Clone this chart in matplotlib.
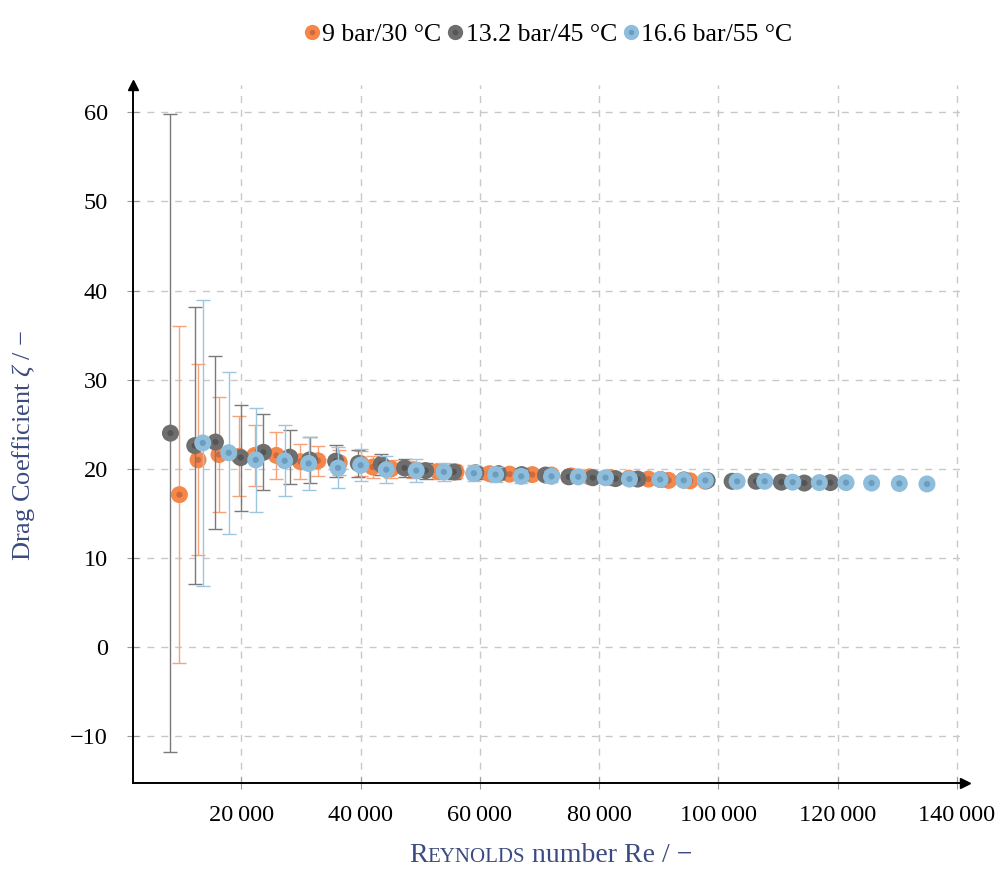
import matplotlib
matplotlib.use("Agg")
import matplotlib.pyplot as plt
from matplotlib.lines import Line2D
from matplotlib.ticker import FuncFormatter

plt.rcParams["font.family"] = ["Liberation Serif", "DejaVu Serif"]
plt.rcParams["mathtext.fontset"] = "custom"
plt.rcParams["mathtext.rm"] = "Liberation Serif"
plt.rcParams["mathtext.it"] = "Liberation Serif:italic"

# 9 bar / 30 °C
re_9 = [9600, 12720, 16240, 19600, 22230, 25860, 29880, 32830, 36400, 40000,
        42000, 45130, 48800, 52950, 56000, 59000, 61600, 64960, 68770, 72000,
        75300, 78370, 82000, 85000, 88260, 91660, 95240, 97800]
zeta_9 = [17.1, 21.0, 21.6, 21.4, 21.5, 21.5, 20.8, 20.9, 20.7, 20.6,
          20.2, 20.0, 19.9, 19.7, 19.65, 19.5, 19.45, 19.4, 19.35, 19.3,
          19.2, 19.1, 19.0, 18.95, 18.85, 18.7, 18.65, 18.6]
err_9 = [18.9, 10.7, 6.45, 4.5, 3.45, 2.6, 2.0, 1.7, 1.45, 1.4,
         1.2, 1.0, 0.9, 0.8, 0.7, 0.65, 0.6, 0.55, 0.5, 0.45,
         0.4, 0.4, 0.35, 0.35, 0.3, 0.3, 0.3, 0.3]

# 13.2 bar / 45 °C
re_13 = [8093, 12170, 15640, 19880, 23680, 28090, 31440, 35800, 39600, 43460,
         47360, 50880, 55580, 59300, 63100, 67000, 71000, 74900, 78930, 82730,
         86460, 90300, 94200, 98100, 102290, 106310, 110550, 114400, 118760]
zeta_13 = [24.0, 22.6, 23.0, 21.25, 21.85, 21.3, 21.0, 20.85, 20.6, 20.5,
           20.1, 19.8, 19.65, 19.55, 19.45, 19.35, 19.3, 19.1, 19.0, 18.9,
           18.85, 18.8, 18.75, 18.7, 18.6, 18.6, 18.5, 18.4, 18.45]
err_13 = [35.8, 15.5, 9.7, 5.95, 4.25, 3.0, 2.55, 1.8, 1.5, 1.2,
          1.05, 0.9, 0.8, 0.7, 0.65, 0.6, 0.55, 0.5, 0.5, 0.45,
          0.45, 0.4, 0.4, 0.4, 0.35, 0.35, 0.35, 0.3, 0.3]

# 16.6 bar / 55 °C
re_16 = [13510, 17870, 22400, 27250, 31270, 36190, 40000, 44290, 49320, 53950,
         58980, 62620, 66920, 72000, 76480, 81050, 85070, 90220, 94170, 97810,
         103130, 107760, 112450, 116920, 121400, 125680, 130330, 134970]
zeta_16 = [22.9, 21.8, 21.0, 20.9, 20.6, 20.1, 20.4, 19.9, 19.8, 19.65,
           19.5, 19.35, 19.15, 19.15, 19.1, 19.0, 18.85, 18.8, 18.7, 18.7,
           18.6, 18.6, 18.5, 18.45, 18.45, 18.4, 18.35, 18.3]
err_16 = [16.0, 9.1, 5.85, 4.0, 3.0, 2.3, 1.8, 1.5, 1.25, 1.05,
          0.9, 0.8, 0.7, 0.65, 0.6, 0.55, 0.5, 0.45, 0.45, 0.4,
          0.4, 0.35, 0.35, 0.35, 0.3, 0.3, 0.3, 0.3]

labels = ["9 bar/30 °C", "13.2 bar/45 °C", "16.6 bar/55 °C"]
outer = ["#F5874B", "#6E6E6E", "#8FBEDC"]
inner = ["#D2693A", "#555555", "#6C9CBE"]
errc = ["#F7A27A", "#7A7A7A", "#9DC6E0"]
series = [(re_9, zeta_9, err_9), (re_13, zeta_13, err_13), (re_16, zeta_16, err_16)]

label_col = "#3B4A80"

fig = plt.figure(figsize=(10.07, 8.72), dpi=100)
ax = fig.add_axes([0.132, 0.102, 0.826, 0.800])

for i, (x, y, e) in enumerate(series):
    ax.errorbar(x, y, yerr=e, fmt="none", ecolor=errc[i], elinewidth=1.0,
                capsize=5, capthick=1.0, zorder=2 + i)
    ax.scatter(x, y, s=150, color=outer[i], edgecolors="none", zorder=2.5 + i)
    ax.scatter(x, y, s=20, color=inner[i], edgecolors="none", zorder=2.6 + i)

ax.set_xlim(1800, 141300)
ax.set_ylim(-15.25, 63.0)
ax.set_xticks(range(20000, 140001, 20000))
ax.set_yticks(range(-10, 61, 10))
ax.xaxis.set_major_formatter(FuncFormatter(lambda v, p: f"{int(v):,}".replace(",", "\u2009")))
ax.yaxis.set_major_formatter(FuncFormatter(lambda v, p: f"{int(v)}".replace("-", "\u2212")))
ax.tick_params(direction="inout", length=8, width=0.8, color="#999999",
               labelsize=17.5, pad=14)
ax.tick_params(axis="x", pad=12)

ax.grid(True, color="#C8C8C8", linestyle=(0, (5, 5)), linewidth=1.0)
ax.set_axisbelow(True)

for s in ["top", "right"]:
    ax.spines[s].set_visible(False)
for s in ["left", "bottom"]:
    ax.spines[s].set_linewidth(1.4)
ax.plot(1, 0, marker=">", color="black", markersize=7, transform=ax.transAxes, clip_on=False)
ax.plot(0, 1, marker="^", color="black", markersize=7, transform=ax.transAxes, clip_on=False)

ax.set_ylabel(r"Drag Coefficient $\zeta$ / $-$", fontsize=19, color=label_col)
ax.yaxis.set_label_coords(-0.115, 0.484)

# x label with small-caps "Reynolds"
fig.canvas.draw()
r = fig.canvas.get_renderer()
parts = [("R", 20), ("EYNOLDS", 15), (" number Re / \u2212", 20)]
texts = []
for s, fs in parts:
    texts.append(fig.text(0, 0.012, s, fontsize=fs, color=label_col))
widths = [t.get_window_extent(r).width for t in texts]
x0 = 551 - sum(widths) / 2
for t, w in zip(texts, widths):
    t.set_x(x0 / fig.bbox.width)
    x0 += w

handles = [(Line2D([], [], marker="o", ls="none", ms=11, color=outer[i], mec="none"),
            Line2D([], [], marker="o", ls="none", ms=4, color=inner[i], mec="none"))
           for i in range(3)]
fig.legend(handles, labels, loc="upper center", bbox_to_anchor=(0.545, 1.0), ncol=3,
           frameon=False, fontsize=18.5, handlelength=0.5, handletextpad=0.15,
           columnspacing=0.3)

fig.savefig("out.png", dpi=100)
